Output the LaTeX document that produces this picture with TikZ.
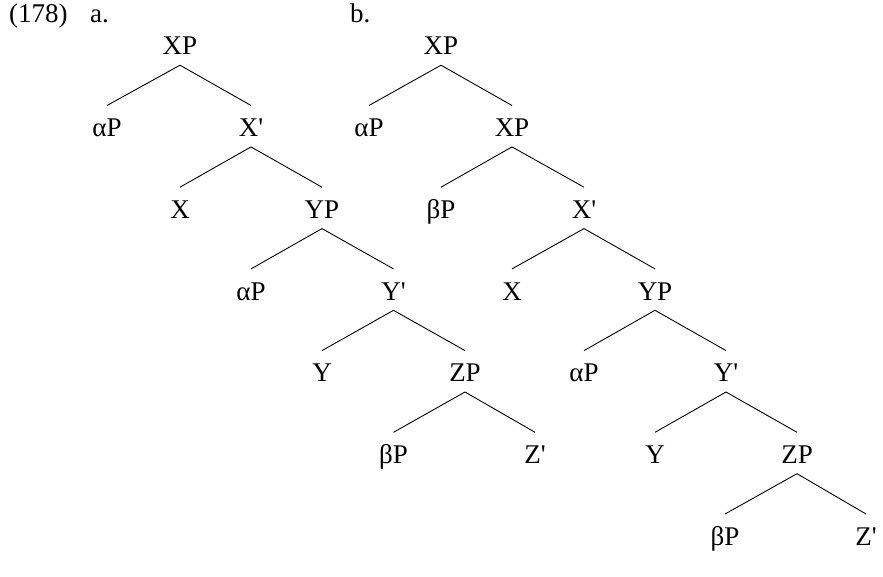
\documentclass[tikz,border=0pt]{standalone}
\usepackage{fontspec}
\setmainfont{Liberation Serif}
\begin{document}
\begin{tikzpicture}[x=1pt,y=-1pt,
  lab/.style={font=\fontsize{27}{30}\selectfont, inner sep=0pt, text height=31pt, text depth=10pt, anchor=base},
  hdr/.style={font=\fontsize{27}{30}\selectfont, inner sep=0pt, anchor=base west},
  br/.style={line width=0.9pt}]
\useasboundingbox (0,0) rectangle (883,577);
\def\ra{55}\def\rb{136.7}\def\rc{218.4}\def\rd{300.1}\def\re{381.8}\def\rf{463.5}\def\rg{545.2}
\def\pr{\textquotesingle}
% header
\node[hdr] (num) at (9,23) {(178)};
\node[hdr] (la) at (90,23) {a.};
\node[hdr] (lb) at (350,23) {b.};
% tree a
\node[lab] (a0) at (180,\ra) {XP};
\node[lab] (a1l) at (107,\rb) {αP};
\node[lab] (a1r) at (251,\rb) {X\pr};
\node[lab] (a2l) at (180,\rc) {X};
\node[lab] (a2r) at (322,\rc) {YP};
\node[lab] (a3l) at (251,\rd) {αP};
\node[lab] (a3r) at (393.5,\rd) {Y\pr};
\node[lab] (a4l) at (322,\re) {Y};
\node[lab] (a4r) at (465,\re) {ZP};
\node[lab] (a5l) at (393.5,\rf) {βP};
\node[lab] (a5r) at (535,\rf) {Z\pr};
\foreach \p/\c in {a0/a1l,a0/a1r,a1r/a2l,a1r/a2r,a2r/a3l,a2r/a3r,a3r/a4l,a3r/a4r,a4r/a5l,a4r/a5r}
  \draw[br] (\p.south) -- (\c.north);
% tree b
\node[lab] (b0) at (441,\ra) {XP};
\node[lab] (b1l) at (369,\rb) {αP};
\node[lab] (b1r) at (512,\rb) {XP};
\node[lab] (b2l) at (441,\rc) {βP};
\node[lab] (b2r) at (584,\rc) {X\pr};
\node[lab] (b3l) at (512,\rd) {X};
\node[lab] (b3r) at (655,\rd) {YP};
\node[lab] (b4l) at (584,\re) {αP};
\node[lab] (b4r) at (726,\re) {Y\pr};
\node[lab] (b5l) at (655,\rf) {Y};
\node[lab] (b5r) at (797,\rf) {ZP};
\node[lab] (b6l) at (725,\rg) {βP};
\node[lab] (b6r) at (866,\rg) {Z\pr};
\foreach \p/\c in {b0/b1l,b0/b1r,b1r/b2l,b1r/b2r,b2r/b3l,b2r/b3r,b3r/b4l,b3r/b4r,b4r/b5l,b4r/b5r,b5r/b6l,b5r/b6r}
  \draw[br] (\p.south) -- (\c.north);
\end{tikzpicture}
\end{document}
